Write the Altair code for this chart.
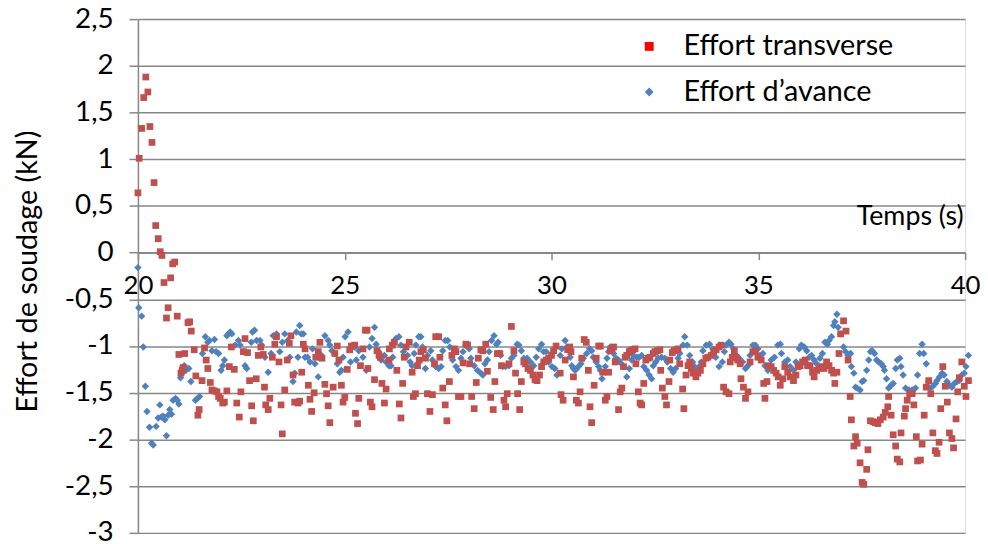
import altair as alt
import pandas as pd

# ---- data (time in s, force in kN) ----
tr_20_25 = [
    (20.00, 0.64), (20.03, 1.01), (20.09, 1.33), (20.14, 1.66), (20.19, 1.88), (20.24, 1.72), (20.29, 1.35),
    (20.34, 1.18), (20.39, 0.75), (20.43, 0.29), (20.49, 0.15), (20.54, 0.01), (20.58, -0.03), (20.63, -0.32),
    (20.69, -0.70), (20.73, -0.59), (20.79, -0.27), (20.84, -0.12), (20.89, -0.10), (20.95, -0.68), (20.99, -1.09),
    (21.04, -1.29), (21.07, -1.26), (21.09, -1.23), (21.13, -1.08), (21.21, -0.75), (21.25, -0.74), (21.29, -0.84),
    (21.36, -1.04), (21.40, -1.32), (21.45, -1.74), (21.48, -1.68), (21.55, -1.37), (21.61, -1.02), (21.65, -1.15),
    (21.69, -1.24), (21.75, -1.39), (21.79, -1.47), (21.85, -1.48), (21.91, -1.49), (21.95, -1.54), (21.99, -1.56),
    (22.05, -1.61), (22.09, -1.60), (22.15, -1.48), (22.21, -1.22), (22.26, -1.01), (22.33, -1.25), (22.39, -1.61),
    (22.45, -1.76), (22.49, -1.49), (22.55, -1.06), (22.59, -0.92), (22.65, -1.07), (22.70, -1.37), (22.75, -1.64),
    (22.79, -1.80), (22.86, -1.35), (22.91, -1.10), (22.97, -1.01), (23.03, -1.09), (23.06, -1.44), (23.09, -1.63),
    (23.15, -1.68), (23.19, -1.56), (23.25, -1.12), (23.31, -0.98), (23.35, -0.90), (23.41, -1.17), (23.46, -1.63),
    (23.49, -1.94), (23.55, -1.47), (23.61, -1.15), (23.66, -0.97), (23.70, -0.89), (23.75, -1.31), (23.79, -1.60),
    (23.87, -1.61), (23.91, -1.59), (23.96, -1.28), (24.00, -0.98), (24.04, -1.03), (24.12, -1.42), (24.16, -1.57),
    (24.20, -1.70), (24.26, -1.50), (24.30, -1.12), (24.36, -1.06), (24.40, -0.96), (24.45, -1.13), (24.52, -1.41),
    (24.56, -1.51), (24.60, -1.64), (24.64, -1.82), (24.72, -1.44), (24.76, -1.08), (24.82, -1.00), (24.86, -1.15),
    (24.92, -1.42), (24.96, -1.60), (25.00, -1.55), (25.06, -1.25), (25.12, -1.04), (25.16, -1.00),
]
tr_25_30 = [
    (25.24, -0.99), (25.26, -1.72), (25.31, -1.83), (25.34, -1.56), (25.38, -1.21), (25.44, -1.03), (25.50, -0.83),
    (25.54, -0.83), (25.56, -1.24), (25.62, -1.60), (25.66, -1.65), (25.72, -1.36), (25.78, -1.05), (25.83, -1.10),
    (25.86, -1.12), (25.90, -1.40), (25.96, -1.61), (26.00, -1.46), (26.07, -1.15), (26.08, -1.03), (26.15, -0.99),
    (26.20, -0.96), (26.26, -1.26), (26.32, -1.62), (26.36, -1.77), (26.40, -1.40), (26.44, -1.12), (26.48, -1.01),
    (26.56, -0.96), (26.63, -1.28), (26.66, -1.54), (26.71, -1.51), (26.76, -1.21), (26.80, -1.15), (26.84, -1.06),
    (26.90, -1.04), (26.95, -1.13), (27.00, -1.51), (27.06, -1.70), (27.12, -1.52), (27.17, -1.19), (27.20, -0.90),
    (27.27, -0.90), (27.30, -1.12), (27.37, -1.45), (27.43, -1.63), (27.47, -1.80), (27.53, -1.38), (27.59, -1.10),
    (27.65, -1.03), (27.69, -1.06), (27.75, -1.54), (27.81, -1.54), (27.86, -1.18), (27.93, -0.98), (27.97, -0.99),
    (28.02, -1.19), (28.07, -1.54), (28.13, -1.67), (28.18, -1.39), (28.23, -1.13), (28.29, -1.04), (28.34, -1.05),
    (28.41, -0.98), (28.45, -1.27), (28.53, -1.55), (28.59, -1.68), (28.63, -1.38), (28.69, -1.08), (28.75, -1.08),
    (28.79, -1.21), (28.85, -1.58), (28.89, -1.65), (28.93, -1.51), (28.97, -1.19), (29.03, -0.79), (29.09, -1.05),
    (29.13, -1.29), (29.18, -1.51), (29.23, -1.68), (29.27, -1.38), (29.33, -1.17), (29.37, -1.19), (29.43, -1.24),
    (29.49, -1.26), (29.55, -1.31), (29.60, -1.36), (29.65, -1.37), (29.71, -1.31), (29.76, -1.22), (29.81, -1.17),
    (29.87, -1.15), (29.93, -1.13), (30.00, -1.10), (30.05, -1.05), (30.11, -1.00),
]
tr_30_35 = [
    (30.21, -1.29), (30.23, -1.52), (30.28, -1.58), (30.33, -1.15), (30.39, -1.04), (30.44, -1.01), (30.47, -1.06),
    (30.53, -1.33), (30.60, -1.58), (30.65, -1.61), (30.69, -1.49), (30.73, -1.13), (30.79, -0.93), (30.84, -0.96),
    (30.89, -1.26), (30.93, -1.65), (30.97, -1.82), (31.03, -1.42), (31.08, -1.13), (31.14, -1.00), (31.18, -1.00),
    (31.24, -1.28), (31.30, -1.58), (31.34, -1.54), (31.38, -1.28), (31.42, -1.05), (31.46, -1.03), (31.50, -1.01),
    (31.54, -1.17), (31.62, -1.68), (31.66, -1.49), (31.70, -1.45), (31.74, -1.22), (31.78, -1.12), (31.82, -1.10),
    (31.88, -1.06), (31.91, -1.05), (31.96, -1.04), (32.02, -1.03), (32.04, -1.19), (32.10, -1.49), (32.14, -1.61),
    (32.18, -1.63), (32.23, -1.40), (32.28, -1.15), (32.34, -1.13), (32.38, -1.12), (32.46, -1.08), (32.50, -1.06),
    (32.56, -1.05), (32.62, -1.04), (32.64, -1.26), (32.68, -1.45), (32.74, -1.54), (32.78, -1.63), (32.84, -1.38),
    (32.86, -1.15), (32.92, -1.07), (32.96, -1.05), (33.02, -1.04), (33.06, -1.03), (33.10, -1.19), (33.17, -1.46),
    (33.20, -1.67), (33.25, -1.31), (33.30, -1.21), (33.34, -1.17), (33.38, -1.24), (33.42, -1.29), (33.49, -1.33),
    (33.54, -1.29), (33.60, -1.26), (33.66, -1.19), (33.73, -1.13), (33.78, -1.12), (33.86, -1.10), (33.92, -1.06),
    (33.98, -1.04), (34.05, -1.01), (34.10, -0.99), (34.16, -1.44), (34.22, -1.49), (34.29, -1.51), (34.32, -1.17),
    (34.37, -1.12), (34.42, -1.05), (34.46, -1.12), (34.50, -1.15), (34.56, -1.19), (34.58, -1.35), (34.64, -1.44),
    (34.69, -1.56), (34.75, -1.49), (34.80, -1.17), (34.87, -1.06), (34.93, -1.05), (34.99, -1.12),
]
tr_35_40 = [
    (35.07, -1.15), (35.13, -1.40), (35.16, -1.56), (35.21, -1.38), (35.24, -1.21), (35.31, -1.22), (35.37, -1.26),
    (35.43, -1.29), (35.48, -1.33), (35.53, -1.42), (35.59, -1.35), (35.64, -1.22), (35.71, -1.28), (35.77, -1.33),
    (35.85, -1.37), (35.91, -1.31), (35.96, -1.22), (36.01, -1.21), (36.07, -1.17), (36.13, -1.15), (36.19, -1.21),
    (36.25, -1.21), (36.31, -1.28), (36.35, -1.33), (36.41, -1.26), (36.47, -1.24), (36.53, -1.22), (36.59, -1.24),
    (36.65, -1.17), (36.71, -1.21), (36.77, -1.26), (36.82, -1.29), (36.85, -1.40), (36.90, -1.28), (36.95, -1.08),
    (36.99, -0.87), (37.06, -0.73), (37.12, -0.84), (37.17, -1.15), (37.22, -1.54), (37.25, -1.79), (37.31, -2.07),
    (37.35, -1.97), (37.39, -2.04), (37.46, -2.25), (37.51, -2.46), (37.55, -2.48), (37.62, -2.32), (37.65, -2.11),
    (37.71, -1.80), (37.78, -1.81), (37.83, -1.82), (37.89, -1.83), (37.95, -1.79), (38.02, -1.76), (38.07, -1.71),
    (38.13, -1.65), (38.15, -1.54), (38.21, -1.74), (38.26, -1.95), (38.32, -2.07), (38.36, -2.21), (38.42, -2.24),
    (38.45, -1.93), (38.53, -1.75), (38.56, -1.67), (38.60, -1.58), (38.66, -1.51), (38.72, -1.51), (38.76, -1.63),
    (38.82, -1.97), (38.85, -2.23), (38.92, -2.22), (38.96, -2.05), (39.01, -1.74), (39.06, -1.44), (39.12, -1.37),
    (39.17, -1.51), (39.22, -1.93), (39.28, -2.12), (39.32, -2.15), (39.37, -2.03), (39.41, -1.67), (39.46, -1.22),
    (39.52, -1.43), (39.57, -1.60), (39.62, -1.93), (39.68, -1.99), (39.72, -2.09), (39.78, -1.78), (39.82, -1.49),
    (39.86, -1.34), (39.92, -1.17), (39.98, -1.43), (40.02, -1.54), (40.08, -1.37),
]

av_20_25 = [
    (20.00, -0.16), (20.02, -0.59), (20.09, -0.68), (20.13, -1.01), (20.18, -1.43), (20.22, -1.70), (20.28, -1.87),
    (20.33, -2.04), (20.37, -2.06), (20.44, -1.86), (20.49, -1.77), (20.53, -1.63), (20.57, -1.76), (20.61, -1.75),
    (20.65, -1.79), (20.69, -1.96), (20.73, -1.74), (20.77, -1.68), (20.81, -1.73), (20.85, -1.58), (20.91, -1.56),
    (20.95, -1.58), (20.99, -1.62), (21.03, -1.34), (21.07, -1.29), (21.12, -1.21), (21.16, -1.26), (21.23, -1.24),
    (21.28, -1.38), (21.39, -1.58), (21.44, -1.56), (21.49, -1.54), (21.56, -1.08), (21.63, -0.90), (21.69, -0.96),
    (21.73, -0.94), (21.79, -1.05), (21.85, -0.93), (21.89, -1.06), (21.95, -1.08), (22.01, -1.26), (22.05, -1.21),
    (22.09, -1.15), (22.15, -0.89), (22.19, -0.87), (22.23, -0.85), (22.27, -0.87), (22.35, -0.99), (22.43, -0.94),
    (22.47, -0.99), (22.55, -1.06), (22.59, -1.21), (22.63, -1.24), (22.74, -0.96), (22.77, -0.85), (22.82, -0.83),
    (22.87, -0.94), (22.95, -0.94), (22.99, -0.99), (23.07, -1.12), (23.15, -1.28), (23.22, -1.08), (23.27, -0.89),
    (23.35, -0.87), (23.43, -1.06), (23.49, -0.96), (23.55, -0.87), (23.62, -0.94), (23.67, -1.12), (23.75, -1.38),
    (23.79, -1.29), (23.83, -0.85), (23.87, -1.12), (23.91, -0.78), (23.95, -0.87), (24.00, -0.87), (24.04, -1.12),
    (24.10, -1.12), (24.16, -1.17), (24.22, -1.03), (24.28, -1.19), (24.36, -1.33), (24.44, -1.10), (24.52, -0.89),
    (24.60, -0.94), (24.64, -0.99), (24.69, -1.05), (24.76, -1.08), (24.82, -1.19), (24.88, -1.28), (24.92, -1.26),
    (24.96, -1.12), (25.01, -0.90), (25.08, -0.85), (25.14, -1.17), (25.24, -1.01),
]
av_25_30 = [
    (25.28, -1.15), (25.34, -1.05), (25.44, -1.12), (25.52, -1.26), (25.60, -1.01), (25.66, -0.92), (25.72, -0.80),
    (25.76, -0.98), (25.82, -1.06), (25.88, -1.15), (25.96, -1.10), (26.00, -1.17), (26.07, -1.21), (26.12, -1.21),
    (26.16, -1.12), (26.24, -0.92), (26.31, -0.90), (26.36, -0.99), (26.42, -1.06), (26.48, -1.01), (26.52, -1.10),
    (26.58, -1.17), (26.63, -1.21), (26.68, -1.08), (26.72, -0.99), (26.79, -0.90), (26.84, -0.90), (26.88, -1.01),
    (26.95, -1.24), (27.00, -1.10), (27.08, -1.05), (27.12, -1.15), (27.20, -1.22), (27.27, -1.24), (27.33, -1.22),
    (27.37, -1.05), (27.43, -0.94), (27.49, -0.94), (27.54, -1.01), (27.61, -1.15), (27.69, -1.22), (27.75, -1.26),
    (27.81, -1.13), (27.86, -1.06), (27.93, -0.99), (28.01, -1.03), (28.05, -1.13), (28.13, -1.21), (28.21, -1.26),
    (28.29, -1.29), (28.34, -1.31), (28.39, -1.19), (28.45, -1.15), (28.49, -1.06), (28.55, -0.94), (28.61, -0.89),
    (28.67, -0.98), (28.71, -0.96), (28.77, -1.10), (28.82, -1.22), (28.89, -1.22), (28.97, -1.21), (29.03, -1.13),
    (29.09, -1.10), (29.17, -0.98), (29.21, -0.99), (29.27, -1.05), (29.33, -1.13), (29.41, -1.13), (29.49, -1.17),
    (29.57, -1.21), (29.63, -1.12), (29.69, -1.03), (29.76, -0.98), (29.81, -1.06), (29.87, -1.06), (29.93, -1.17),
    (30.01, -1.22), (30.08, -1.24), (30.13, -1.31),
]
av_30_35 = [
    (30.21, -1.10), (30.25, -1.03), (30.33, -0.94), (30.37, -1.01), (30.45, -1.12), (30.49, -1.21), (30.53, -1.24),
    (30.57, -1.26), (30.61, -1.24), (30.65, -1.22), (30.71, -1.19), (30.77, -1.13), (30.85, -1.08), (30.92, -1.03),
    (30.97, -1.05), (31.01, -1.12), (31.08, -1.17), (31.14, -1.22), (31.18, -1.26), (31.22, -1.35), (31.30, -1.22),
    (31.34, -1.13), (31.38, -1.06), (31.42, -1.01), (31.50, -1.08), (31.56, -1.13), (31.62, -1.15), (31.67, -1.18),
    (31.74, -1.22), (31.82, -1.33), (31.88, -1.24), (31.94, -1.15), (31.98, -1.10), (32.06, -1.12), (32.12, -1.12),
    (32.18, -1.10), (32.23, -1.22), (32.30, -1.26), (32.36, -1.31), (32.42, -1.35), (32.46, -1.21), (32.52, -1.17),
    (32.58, -1.13), (32.66, -1.12), (32.74, -1.13), (32.80, -1.17), (32.88, -1.24), (32.94, -1.28), (33.00, -1.24),
    (33.06, -1.13), (33.10, -1.08), (33.18, -0.99), (33.22, -0.90), (33.28, -0.99), (33.34, -1.10), (33.41, -1.17),
    (33.46, -1.22), (33.50, -1.26), (33.57, -1.22), (33.62, -1.17), (33.66, -1.05), (33.74, -0.99), (33.82, -0.98),
    (33.90, -1.03), (33.97, -1.12), (34.05, -1.22), (34.13, -1.17), (34.18, -1.06), (34.22, -0.99), (34.29, -0.96),
    (34.34, -0.98), (34.40, -1.03), (34.46, -1.10), (34.54, -1.13), (34.62, -1.17), (34.69, -1.24), (34.75, -1.21),
    (34.80, -1.10), (34.87, -0.99), (34.93, -0.99), (34.99, -1.03), (35.04, -1.10),
]
av_35_40 = [
    (35.11, -1.08), (35.16, -1.21), (35.23, -1.26), (35.31, -1.15), (35.39, -1.12), (35.47, -0.99), (35.53, -0.98),
    (35.56, -1.08), (35.64, -1.17), (35.71, -1.15), (35.77, -1.22), (35.85, -1.26), (35.91, -1.17), (35.99, -1.03),
    (36.04, -0.99), (36.11, -1.01), (36.17, -1.05), (36.23, -1.12), (36.29, -1.10), (36.35, -1.15), (36.41, -1.19),
    (36.49, -1.13), (36.55, -1.08), (36.61, -0.96), (36.67, -0.98), (36.71, -0.94), (36.77, -0.90), (36.82, -0.78),
    (36.85, -0.74), (36.90, -0.66), (36.93, -0.80), (36.99, -0.87), (37.06, -1.01), (37.11, -1.06), (37.17, -1.10),
    (37.23, -1.08), (37.25, -1.22), (37.31, -1.29), (37.35, -1.44), (37.39, -1.45), (37.46, -1.47), (37.51, -1.38),
    (37.55, -1.37), (37.62, -1.26), (37.67, -1.15), (37.71, -1.06), (37.75, -1.05), (37.81, -1.08), (37.86, -1.15),
    (37.91, -1.17), (37.97, -1.19), (38.02, -1.22), (38.05, -1.26), (38.10, -1.35), (38.15, -1.45), (38.21, -1.42),
    (38.26, -1.40), (38.32, -1.24), (38.36, -1.15), (38.42, -1.13), (38.45, -1.22), (38.50, -1.31), (38.56, -1.45),
    (38.64, -1.47), (38.72, -1.47), (38.80, -1.45), (38.85, -1.31), (38.90, -1.08), (38.96, -0.98), (39.00, -1.08),
    (39.06, -1.19), (39.12, -1.38), (39.16, -1.45), (39.22, -1.43), (39.28, -1.40), (39.32, -1.37), (39.38, -1.33),
    (39.44, -1.29), (39.49, -1.31), (39.56, -1.38), (39.62, -1.42), (39.68, -1.44), (39.74, -1.40), (39.80, -1.38),
    (39.86, -1.37), (39.92, -1.31), (39.98, -1.29), (40.02, -1.22), (40.08, -1.10),
]

SERIES = ["Effort transverse", "Effort d\u2019avance"]
Y_TICKS = [-3, -2.5, -2, -1.5, -1, -0.5, 0, 0.5, 1, 1.5, 2, 2.5]
X_TICKS = [20, 25, 30, 35, 40]

rows = []
for chunk in (tr_20_25, tr_25_30, tr_30_35, tr_35_40):
    rows += [{"t": t, "f": f, "serie": SERIES[0]} for t, f in chunk]
for chunk in (av_20_25, av_25_30, av_30_35, av_35_40):
    rows += [{"t": t, "f": f, "serie": SERIES[1]} for t, f in chunk]
df = pd.DataFrame(rows)

FONT = "Lato"
GRID = "#878787"
W, H = 834, 518

x_enc = alt.X(
    "t:Q",
    scale=alt.Scale(domain=[20, 40], nice=False, zero=False),
    axis=alt.Axis(
        values=X_TICKS, grid=False, orient="bottom", offset=-282.5,
        domainColor=GRID, domainWidth=1.5, tickColor=GRID, tickWidth=1.5, tickSize=7,
        labelFont=FONT, labelFontSize=26, labelColor="#000000", labelPadding=13,
        labelFlush=False, labelOverlap=False, format="d",
        title="Temps (s)", titleFont=FONT, titleFontSize=27, titleFontWeight="normal",
        titleColor="#000000", titleX=832, titleY=-36, titleAlign="right", titleBaseline="middle",
    ),
)
y_enc = alt.Y(
    "f:Q",
    scale=alt.Scale(domain=[-3, 2.5], nice=False, zero=False),
    axis=alt.Axis(
        values=Y_TICKS, grid=True, gridColor=GRID, gridWidth=1.5,
        domainColor=GRID, domainWidth=1.5, tickColor=GRID, tickWidth=1.5, tickSize=9,
        labelFont=FONT, labelFontSize=28, labelColor="#000000", labelPadding=16,
        labelExpr="(datum.value < 0 ? '-' : '') + replace(toString(abs(datum.value)), '.', ',')",
        title="Effort de soudage (kN)", titleFont=FONT, titleFontSize=29, titleFontWeight="normal",
        titleColor="#000000", titleAngle=270, titleX=-111, titleY=254,
        titleAlign="center", titleBaseline="middle",
    ),
)

base = alt.Chart(df)

avance = base.transform_filter(alt.datum.serie == SERIES[1]).mark_point(
    shape="diamond", filled=True, size=56, color="#4F81BD", opacity=1
).encode(x=x_enc, y=y_enc)

transverse = base.transform_filter(alt.datum.serie == SERIES[0]).mark_point(
    shape="square", filled=True, size=46, color="#C0504D", opacity=1
).encode(x=x_enc, y=y_enc)

leg = alt.Legend(
    title=None, orient="none", legendX=501, legendY=13, padding=0,
    labelFont=FONT, labelFontSize=29, labelColor="#000000", labelOffset=20, labelLimit=500,
    symbolSize=80, symbolOpacity=1, symbolStrokeWidth=0, rowPadding=16,
)
legend_layer = base.mark_point(filled=True, opacity=0).encode(
    x=x_enc, y=y_enc,
    color=alt.Color("serie:N", scale=alt.Scale(domain=SERIES, range=["#FF0000", "#4F81BD"]), legend=leg),
    shape=alt.Shape("serie:N", scale=alt.Scale(domain=SERIES, range=["square", "diamond"]), legend=leg),
)

chart = alt.layer(legend_layer, avance, transverse).properties(
    width=W, height=H,
    autosize=alt.AutoSizeParams(type="none"),
    padding={"left": 131, "top": 9, "right": 15, "bottom": 8},
).configure_view(stroke=None).configure(background="#ffffff")

chart.save("out.html", embed_options={"renderer": "svg", "actions": False})
